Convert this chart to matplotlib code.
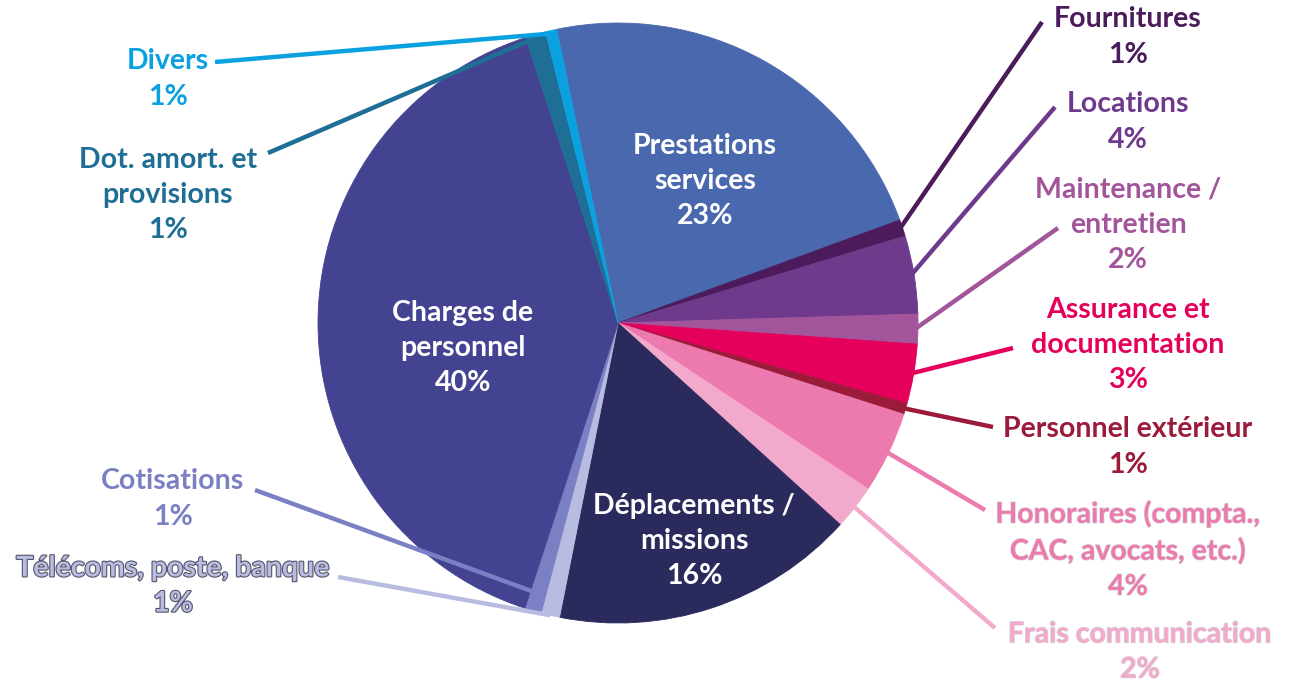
import matplotlib

matplotlib.use("Agg")
import numpy as np
import matplotlib.pyplot as plt
import matplotlib.patheffects as pe

plt.rcParams.update({
    "font.family": ["Lato", "DejaVu Sans"],
    "font.weight": "bold",
})

# ---- data (clockwise from the top) ----
categories = [
    "Prestations\nservices", "Fournitures", "Locations", "Maintenance /\nentretien",
    "Assurance et\ndocumentation", "Personnel extérieur",
    "Honoraires (compta.,\nCAC, avocats, etc.)", "Frais communication",
    "Déplacements /\nmissions", "Télécoms, poste, banque", "Cotisations",
    "Charges de\npersonnel", "Dot. amort. et\nprovisions", "Divers",
]
shares = [22.7, 0.9, 4.2, 1.6, 3.2, 0.6, 4.4, 2.4, 16.4, 1.0, 0.9, 40.0, 1.1, 0.6]
colors = [
    "#4A68AE", "#4B1B5C", "#6F3A8C", "#A3559B", "#E4005B", "#9C1B3B",
    "#EC7AAE", "#F3A9CC", "#2A2A5D", "#B9BCE1", "#7A80C3", "#444392",
    "#1F6E96", "#0BA1E0",
]

W, H = 1290, 681
CX, CY, R = 618, H - 323, 300
START = 101.8

fig = plt.figure(figsize=(W / 100, H / 100), dpi=100)
ax = fig.add_axes([0, 0, 1, 1])

wedges, _ = ax.pie(shares, colors=colors, startangle=START, counterclock=False,
                   center=(CX, CY), radius=R, frame=True,
                   wedgeprops=dict(linewidth=0.6))
for w, c in zip(wedges, colors):
    w.set_edgecolor(c)
ax.set_xlim(0, W)
ax.set_ylim(0, H)
ax.set_aspect("equal")
ax.axis("off")

pcts = [f"{v:.0f}%" for v in shares]

# inside labels: index -> (x, y) in pixel coords (y from top)
inside = {0: (705, 181), 11: (463, 348), 8: (694, 541)}
# outside labels: index -> (label x, label y, line end x, line end y, line start radius)
outside = {
    1: (1128, 37, 1042, 22, 0.99),
    2: (1128, 122, 1055, 107, 0.99),
    3: (1128, 225, 1058, 228, 0.99),
    4: (1128, 345, 1013, 348, 0.99),
    5: (1128, 447, 993, 427, 0.99),
    6: (1128, 550, 985, 510, 0.99),
    7: (1140, 652, 995, 628, 0.99),
    9: (173, 586, 338, 577, 1.0),
    10: (173, 499, 255, 490, 0.94),
    12: (168, 195, 268, 153, 0.99),
    13: (168, 79, 215, 62, 0.99),
}

FS = 20.5
LS = 1.44
for i, (x, y) in inside.items():
    ax.text(x, H - y, categories[i] + "\n" + pcts[i], ha="center", va="center",
            fontsize=FS, color="white", linespacing=LS, zorder=5)

cum = np.cumsum([0] + shares)
for i, (lx, ly, ex, ey, rf) in outside.items():
    mid = START - 360 * (cum[i] + shares[i] / 2) / 100
    sx = CX + R * rf * np.cos(np.radians(mid))
    sy = CY + R * rf * np.sin(np.radians(mid))
    ax.plot([sx, ex], [sy, H - ey], color=colors[i], lw=3.2,
            solid_capstyle="butt", zorder=4)
    t = ax.text(lx, H - ly, categories[i] + "\n" + pcts[i], ha="center",
                va="center", fontsize=FS, color=colors[i], linespacing=LS,
                zorder=5)
    if i == 9:
        t.set_path_effects([pe.withStroke(linewidth=1.6, foreground="#55556a")])
    elif i in (6, 7):
        t.set_path_effects([pe.withStroke(linewidth=1.0, foreground="#d8d0d4")])

fig.savefig("out.png", dpi=100)
